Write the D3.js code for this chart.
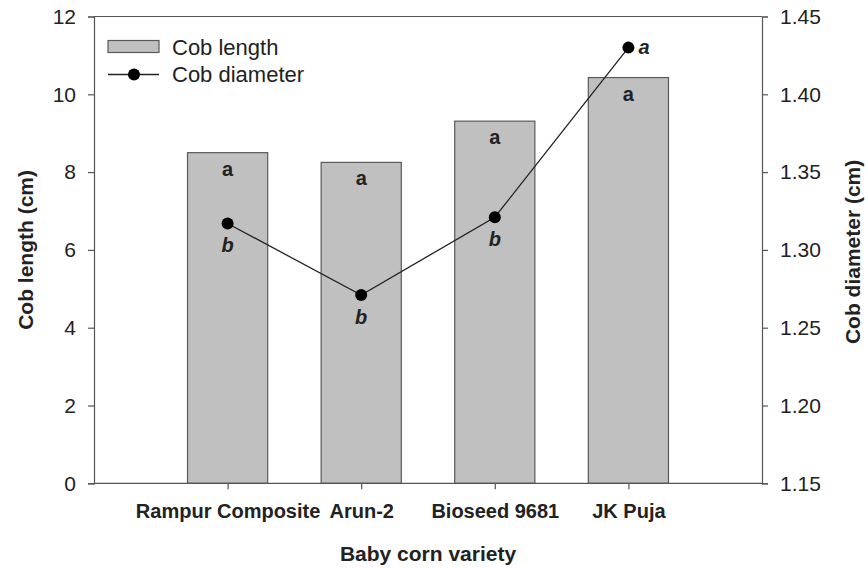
<!DOCTYPE html>
<html><head><meta charset="utf-8">
<script src="https://cdn.jsdelivr.net/npm/d3@7"></script>
<style>body{margin:0;background:#fff}svg{display:block;font-family:"Liberation Sans",Arial,sans-serif}</style>
</head><body>
<svg id="c" width="868" height="569"></svg>
<script>
const varieties = ["Rampur Composite", "Arun-2", "Bioseed 9681", "JK Puja"];
const cobLength = [8.50, 8.25, 9.31, 10.43];
const cobDiameter = [1.317, 1.271, 1.321, 1.430];
const lengthLetters = ["a", "a", "a", "a"];
const diameterLetters = ["b", "b", "b", "a"];
const leftTicks = [0, 2, 4, 6, 8, 10, 12];
const rightTicks = [1.15, 1.20, 1.25, 1.30, 1.35, 1.40, 1.45];

const svg = d3.select("#c");
const L = 94, R = 762, T = 16.5, B = 483.3;
const axisCol = "#555", textCol = "#222";

const x = d3.scaleLinear().domain([0, 5]).range([L, R]);
const yL = d3.scaleLinear().domain([0, 12]).range([B, T]);
const yR = d3.scaleLinear().domain([1.15, 1.45]).range([B, T]);
const bw = (x(1) - x(0)) * 0.6;

// bars
svg.append("g").selectAll("rect").data(cobLength).join("rect")
  .attr("x", (d, i) => x(i + 1) - bw / 2)
  .attr("y", d => yL(d))
  .attr("width", bw)
  .attr("height", d => B - yL(d))
  .attr("fill", "#c0c0c0").attr("stroke", "#5a5a5a").attr("stroke-width", 1.2);

// bar letters
svg.append("g").selectAll("text").data(cobLength).join("text")
  .attr("x", (d, i) => x(i + 1)).attr("y", d => yL(d) + 23)
  .attr("text-anchor", "middle").attr("font-size", 20).attr("font-weight", "bold").attr("fill", textCol)
  .text((d, i) => lengthLetters[i]);

// frame top
svg.append("line").attr("x1", L).attr("x2", R).attr("y1", T).attr("y2", T).attr("stroke", axisCol).attr("stroke-width", 1.2);

// axes
const fmt2 = d3.format(".2f");
const gL = svg.append("g").attr("transform", `translate(${L},0)`)
  .call(d3.axisLeft(yL).tickValues(leftTicks).tickSize(6).tickPadding(12).tickFormat(d3.format("d")));
const gR = svg.append("g").attr("transform", `translate(${R},0)`)
  .call(d3.axisRight(yR).tickValues(rightTicks).tickSize(6).tickPadding(12).tickFormat(fmt2));
const gB = svg.append("g").attr("transform", `translate(0,${B})`)
  .call(d3.axisBottom(x).tickValues([1, 2, 3, 4]).tickSize(6).tickPadding(10).tickFormat((d) => varieties[d - 1]));
[gL, gR, gB].forEach(g => {
  g.select(".domain").attr("stroke", axisCol).attr("stroke-width", 1.2);
  g.selectAll(".tick line").attr("stroke", axisCol).attr("stroke-width", 1.2);
  g.selectAll("text").attr("fill", textCol).attr("font-family", "Liberation Sans, Arial, sans-serif");
});
gL.selectAll("text").attr("font-size", 21);
gR.selectAll("text").attr("font-size", 21);
gB.selectAll(".tick text").attr("font-size", 20).attr("font-weight", "bold").attr("dy", null).attr("y", 35);
gB.select(".domain").attr("d", `M${L},0H${R}`);

// line
const line = d3.line().x((d, i) => x(i + 1)).y(d => yR(d));
svg.append("path").datum(cobDiameter).attr("d", line).attr("fill", "none").attr("stroke", "#222").attr("stroke-width", 1.3);
svg.append("g").selectAll("circle").data(cobDiameter).join("circle")
  .attr("cx", (d, i) => x(i + 1)).attr("cy", d => yR(d)).attr("r", 6).attr("fill", "#000");
svg.append("g").selectAll("text").data(cobDiameter).join("text")
  .attr("x", (d, i) => i === 3 ? x(i + 1) + 10 : x(i + 1))
  .attr("y", (d, i) => i === 3 ? yR(d) + 6 : yR(d) + 29)
  .attr("text-anchor", (d, i) => i === 3 ? "start" : "middle")
  .attr("font-size", 20).attr("font-weight", "bold").attr("font-style", "italic").attr("fill", textCol)
  .text((d, i) => diameterLetters[i]);

// legend
const lg = svg.append("g");
lg.append("rect").attr("x", 108).attr("y", 40.5).attr("width", 51).attr("height", 12)
  .attr("fill", "#c0c0c0").attr("stroke", "#5a5a5a").attr("stroke-width", 1.2);
lg.append("text").attr("x", 172).attr("y", 55).attr("font-size", 22).attr("fill", textCol).text("Cob length");
lg.append("line").attr("x1", 108).attr("x2", 159).attr("y1", 74.5).attr("y2", 74.5).attr("stroke", "#222").attr("stroke-width", 1.3);
lg.append("circle").attr("cx", 134).attr("cy", 74.5).attr("r", 6).attr("fill", "#000");
lg.append("text").attr("x", 172).attr("y", 82).attr("font-size", 22).attr("fill", textCol).text("Cob diameter");

// axis titles
svg.append("text").attr("transform", `translate(33,${(T + B) / 2}) rotate(-90)`)
  .attr("text-anchor", "middle").attr("font-size", 21).attr("font-weight", "bold").attr("fill", textCol)
  .text("Cob length (cm)");
svg.append("text").attr("transform", `translate(860,${(T + B) / 2 + 2}) rotate(-90)`)
  .attr("text-anchor", "middle").attr("font-size", 21).attr("font-weight", "bold").attr("fill", textCol)
  .text("Cob diameter (cm)");
svg.append("text").attr("x", (L + R) / 2).attr("y", 561)
  .attr("text-anchor", "middle").attr("font-size", 21).attr("font-weight", "bold").attr("fill", textCol)
  .text("Baby corn variety");
</script>
</body></html>
